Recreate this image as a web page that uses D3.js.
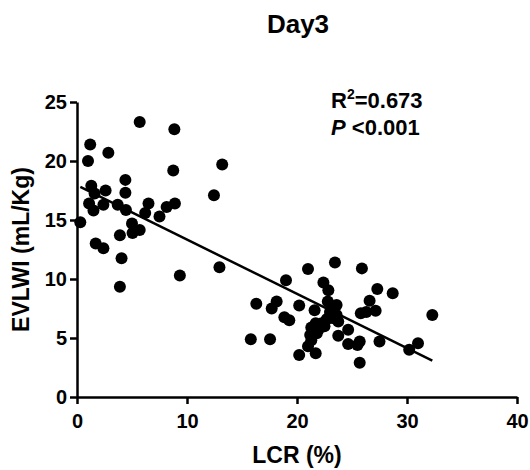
<!DOCTYPE html>
<html>
<head>
<meta charset="utf-8">
<script src="https://cdn.jsdelivr.net/npm/d3@7"></script>
<style>
  body { margin: 0; background: #fff; }
  text { font-family: "Liberation Sans", Arial, sans-serif; font-weight: bold; fill: #000; }
</style>
</head>
<body>
<svg id="canvas" width="530" height="470"></svg>
<script>
// LCR (%) values
let lcr = [
  5.7, 8.85, 1.2, 2.85, 1.0, 13.2, 8.75, 4.4, 1.3, 2.6, 4.4, 1.6, 12.45, 1.1, 2.4, 3.7,
  6.5, 8.9, 8.15, 1.5, 4.45, 6.2, 7.5, 0.3, 5.0, 5.05, 5.7, 3.9, 1.7, 2.4, 4.05, 9.35,
  12.95, 3.9,
  23.45, 21.0, 25.9, 19.0, 22.4, 22.85, 27.3, 28.7, 16.3, 18.15, 17.7, 20.2, 22.8, 23.6,
  26.6, 27.15, 25.8, 26.3, 32.3, 21.6, 18.85, 19.3, 23.0, 23.6, 23.75, 22.7, 22.25, 21.7,
  21.3, 21.95, 24.65, 21.2, 23.75, 15.8, 17.55, 21.3, 24.65, 25.7, 25.5, 27.5, 30.2, 31.0,
  21.0, 20.2, 21.7, 25.7, 22.5, 23.2, 21.8
]
// EVLWI (mL/Kg) values, same order
let evlwi = [
  23.3, 22.7, 21.4, 20.7, 20.0, 19.7, 19.2, 18.4, 17.9, 17.5, 17.3, 17.25, 17.1, 16.4, 16.3, 16.3,
  16.4, 16.4, 16.1, 15.8, 15.85, 15.6, 15.3, 14.8, 14.7, 13.9, 14.15, 13.7, 13.0, 12.6, 11.75, 10.3,
  11.0, 9.35,
  11.4, 10.85, 10.9, 9.9, 9.7, 9.05, 9.15, 8.8, 7.9, 8.1, 7.5, 7.75, 8.1, 7.8,
  8.15, 7.3, 7.1, 7.2, 6.95, 7.35, 6.75, 6.5, 7.2, 6.95, 6.4, 6.6, 6.25, 6.25,
  5.9, 5.7, 5.7, 5.25, 5.2, 4.9, 4.9, 4.8, 4.5, 4.7, 4.4, 4.7, 4.0, 4.55,
  4.3, 3.55, 3.7, 2.9, 6.0, 6.7, 5.4
]
let xTicks = [0, 10, 20, 30, 40]
let yTicks = [0, 5, 10, 15, 20, 25]
// fitted line as drawn
let fitX = [0.3, 32.3]
let fitSlope = -0.46
let fitIntercept = 17.94

let canvas = d3.select('#canvas')

let xScale = d3.scaleLinear().domain([0, 40]).range([77, 517])
let yScale = d3.scaleLinear().domain([0, 25]).range([397, 102])

let xAxis = d3.axisBottom(xScale).tickValues(xTicks).tickSize(7).tickSizeOuter(0)
let yAxis = d3.axisLeft(yScale).tickValues(yTicks).tickSize(7).tickSizeOuter(0)

let gx = canvas.append('g')
  .attr('transform', 'translate(0,' + yScale(0) + ')')
  .call(xAxis)
let gy = canvas.append('g')
  .attr('transform', 'translate(' + xScale(0) + ',0)')
  .call(yAxis)

canvas.selectAll('.domain').attr('stroke', '#000').attr('stroke-width', 2.5)
canvas.selectAll('.tick line').attr('stroke', '#000').attr('stroke-width', 2.5)
gx.selectAll('.tick text').attr('y', 12).attr('dy', '0.95em').style('font-size', '20px').style('font-family', '"Liberation Sans", Arial, sans-serif').style('font-weight', 'bold')
gy.selectAll('.tick text').attr('x', -10).style('font-size', '20px').style('font-family', '"Liberation Sans", Arial, sans-serif').style('font-weight', 'bold')

// regression line
canvas.append('line')
  .attr('x1', xScale(fitX[0]))
  .attr('y1', yScale(fitIntercept + fitSlope * fitX[0]))
  .attr('x2', xScale(fitX[1]))
  .attr('y2', yScale(fitIntercept + fitSlope * fitX[1]))
  .attr('stroke', '#000')
  .attr('stroke-width', 2.5)

canvas.selectAll('circle')
  .data(lcr)
  .enter()
  .append('circle')
  .attr('cx', (d) => xScale(d))
  .attr('cy', (d, i) => yScale(evlwi[i]))
  .attr('r', 6)
  .attr('fill', '#000')

// title and axis labels
canvas.append('text')
  .attr('x', 298).attr('y', 33)
  .attr('text-anchor', 'middle')
  .style('font-size', '26px')
  .text('Day3')

canvas.append('text')
  .attr('x', 297).attr('y', 463)
  .attr('text-anchor', 'middle')
  .style('font-size', '23px')
  .text('LCR (%)')

canvas.append('text')
  .attr('transform', 'translate(29,' + yScale(12.5) + ') rotate(-90)')
  .attr('text-anchor', 'middle')
  .style('font-size', '23px')
  .text('EVLWI (mL/Kg)')

// statistics
let stat = canvas.append('text').attr('x', 331).attr('y', 108).style('font-size', '22px')
stat.append('tspan').text('R')
stat.append('tspan').attr('dy', -9).style('font-size', '14px').text('2')
stat.append('tspan').attr('dy', 9).text('=0.673')

let pText = canvas.append('text').attr('x', 331).attr('y', 135).style('font-size', '22px')
pText.append('tspan').style('font-style', 'italic').text('P')
pText.append('tspan').text(' <0.001')
</script>
</body>
</html>
